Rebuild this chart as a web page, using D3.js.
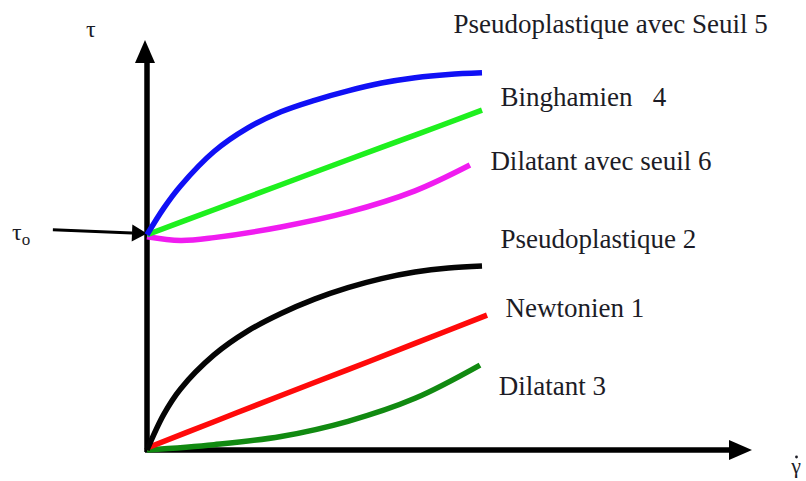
<!DOCTYPE html>
<html>
<head>
<meta charset="utf-8">
<script src="https://cdn.jsdelivr.net/npm/d3@7"></script>
<style>
  html, body { margin: 0; padding: 0; background: #ffffff; }
  svg { display: block; }
  text { font-family: "Liberation Serif", "Times New Roman", serif; fill: #1c1c26; }
</style>
</head>
<body>
<svg id="chart" width="806" height="481"></svg>
<script>
// Rheological flow curves: shear stress (tau) versus shear rate (gamma dot)
const tau0 = 52.5;

// 1 - Newtonian
const newtonGamma = [0, 20, 40, 60, 80, 101.5];
const newtonTau   = [0.5, 6.9, 13.3, 19.6, 26.0, 32.9];

// 2 - Shear-thinning (pseudoplastic)
const pseudoGamma = [0, 5, 10, 20, 30, 40, 50, 60, 70, 80, 90, 100];
const pseudoTau   = [0, 8.7, 14.9, 23.2, 29.0, 33.3, 36.8, 39.6, 41.8, 43.4, 44.4, 44.9];

// 3 - Shear-thickening (dilatant)
const dilatantGamma = [0, 20, 40, 60, 80, 99.4];
const dilatantTau   = [0, 1.3, 3.3, 7.0, 12.6, 20.7];

// 4 - Bingham plastic
const binghamGamma = [0, 20, 40, 60, 80, 100];
const binghamTau   = [52.5, 58.6, 64.7, 70.8, 76.8, 82.9];

// 5 - Shear-thinning with yield stress
const pseudoYieldGamma = [0, 5, 10, 20, 30, 40, 50, 60, 70, 80, 90, 100];
const pseudoYieldTau   = [52.5, 59.0, 64.4, 72.8, 78.5, 82.5, 85.3, 87.6, 89.5, 90.8, 91.6, 92.0];

// 6 - Shear-thickening with yield stress
const dilatantYieldGamma = [0, 10, 20, 40, 60, 80, 96.4];
const dilatantYieldTau   = [52.0, 51.1, 51.8, 54.4, 58.0, 63.2, 69.5];

// Curve labels
const labelTexts = [
  "Pseudoplastique avec Seuil 5",
  "Binghamien\u00a0\u00a0\u00a04",
  "Dilatant avec seuil 6",
  "Pseudoplastique 2",
  "Newtonien 1",
  "Dilatant 3"
];
const labelGamma = [91.5, 105.5, 102.5, 105.5, 107, 105];
const labelTau   = [101.7, 83.9, 68.3, 49.3, 32.4, 13.4];

const svg = d3.select("#chart");

const x = d3.scaleLinear().domain([0, 100]).range([147, 482]);
const y = d3.scaleLinear().domain([0, 100]).range([450, 40]);

const xAxisEnd = 180.6;
const yAxisEnd = 100;

// Axes with solid arrowheads
const axes = svg.append("g");
axes.append("line")
  .attr("x1", x(0)).attr("y1", y(0) + 2)
  .attr("x2", x(0)).attr("y2", y(yAxisEnd) + 18)
  .attr("stroke", "#000").attr("stroke-width", 5.5);
axes.append("line")
  .attr("x1", x(0) - 2).attr("y1", y(0))
  .attr("x2", x(xAxisEnd) - 18).attr("y2", y(0))
  .attr("stroke", "#000").attr("stroke-width", 5.5);
axes.append("path")
  .attr("d", `M${x(0) - 2},${y(yAxisEnd)} L${x(0) + 8},${y(yAxisEnd) + 23} L${x(0) - 12},${y(yAxisEnd) + 23} Z`)
  .attr("fill", "#000");
axes.append("path")
  .attr("d", `M${x(xAxisEnd)},${y(0)} L${x(xAxisEnd) - 23},${y(0) - 10} L${x(xAxisEnd) - 23},${y(0) + 10} Z`)
  .attr("fill", "#000");

// Yield stress pointer
const ptrStart = [-28.1, 53.7];
const ptrTip = [0, tau0 + 0.3];
const px0 = x(ptrStart[0]), py0 = y(ptrStart[1]);
const px1 = x(ptrTip[0]), py1 = y(ptrTip[1]);
const ang = Math.atan2(py1 - py0, px1 - px0);
const headLen = 15, headHalf = 8.5;
const bx = px1 - headLen * Math.cos(ang), by = py1 - headLen * Math.sin(ang);
axes.append("line")
  .attr("x1", px0).attr("y1", py0).attr("x2", bx).attr("y2", by)
  .attr("stroke", "#000").attr("stroke-width", 3);
axes.append("path")
  .attr("d", `M${px1},${py1} L${bx - headHalf * Math.sin(ang)},${by + headHalf * Math.cos(ang)} L${bx + headHalf * Math.sin(ang)},${by - headHalf * Math.cos(ang)} Z`)
  .attr("fill", "#000");

// Flow curves
const series = [
  { g: dilatantGamma, t: dilatantTau, color: "#118a11" },
  { g: newtonGamma, t: newtonTau, color: "#ff0a0a" },
  { g: pseudoGamma, t: pseudoTau, color: "#050505" },
  { g: dilatantYieldGamma, t: dilatantYieldTau, color: "#f01cf0" },
  { g: binghamGamma, t: binghamTau, color: "#1ef01e" },
  { g: pseudoYieldGamma, t: pseudoYieldTau, color: "#1010f5" }
];

const line = d3.line()
  .x(d => x(d[0]))
  .y(d => y(d[1]))
  .curve(d3.curveCatmullRom.alpha(0.5));

svg.append("g").selectAll("path")
  .data(series)
  .join("path")
  .attr("d", s => line(s.g.map((g, i) => [g, s.t[i]])))
  .attr("fill", "none")
  .attr("stroke", s => s.color)
  .attr("stroke-width", 5.5)
  .attr("stroke-linecap", "butt")
  .attr("stroke-linejoin", "round");

// Labels
svg.append("g").selectAll("text")
  .data(labelTexts)
  .join("text")
  .attr("x", (d, i) => x(labelGamma[i]))
  .attr("y", (d, i) => y(labelTau[i]))
  .attr("font-size", 27)
  .attr("xml:space", "preserve")
  .text(d => d);

// Axis titles
svg.append("text")
  .attr("x", 86).attr("y", 37)
  .attr("font-size", 24)
  .text("τ");

const t0 = svg.append("text")
  .attr("x", 12).attr("y", 240)
  .attr("font-size", 24);
t0.append("tspan").text("τ");
t0.append("tspan").attr("font-size", 17).attr("dy", 5).text("o");

// Shear rate symbol with its overdot
svg.append("text")
  .attr("x", 796).attr("y", 473)
  .attr("font-size", 22)
  .attr("text-anchor", "middle")
  .text("γ");
svg.append("circle")
  .attr("cx", 796.5).attr("cy", 457)
  .attr("r", 1.4)
  .attr("fill", "#1c1c26");
</script>
</body>
</html>
